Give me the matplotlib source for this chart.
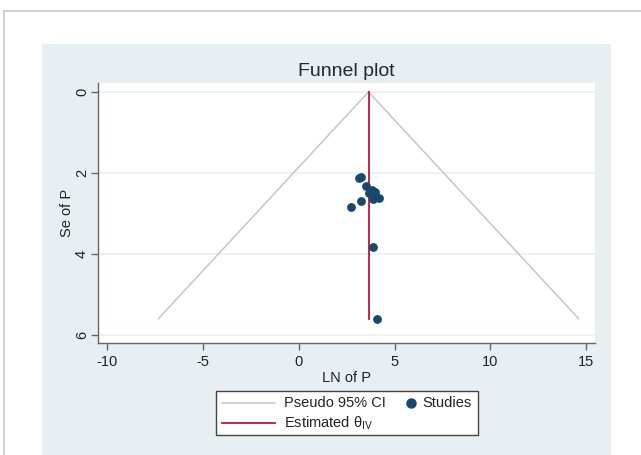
import numpy as np
import matplotlib
matplotlib.use("Agg")
import matplotlib.pyplot as plt
from matplotlib.patches import Rectangle
from matplotlib.lines import Line2D

plt.rcParams['font.family'] = ['Liberation Sans', 'DejaVu Sans']
plt.rcParams['mathtext.fontset'] = 'custom'
plt.rcParams['mathtext.rm'] = 'Liberation Sans'
plt.rcParams['mathtext.it'] = 'Liberation Sans'
plt.rcParams['axes.unicode_minus'] = False

# studies: log effect and standard error
ln_p = [3.12, 3.24, 3.52, 2.75, 3.27, 4.00, 4.17, 3.90, 3.69, 3.80, 3.88, 4.09]
se_p = [2.12, 2.10, 2.32, 2.83, 2.70, 2.46, 2.61, 2.64, 2.50, 2.42, 3.82, 5.61]
theta_iv = 3.64
se_max = 5.6
x_ticks = [-10, -5, 0, 5, 10, 15]
y_ticks = [0, 2, 4, 6]

navy = '#1a476f'
cranberry = '#c8103e'
gray = '#c6c6c6'
panel = '#e8eff2'
txt = '#222222'

fig = plt.figure(figsize=(6.41, 4.55), dpi=100)
W, H = 641, 455


def fx(px):
    return px / W


def fy(py):
    return 1 - py / H


# outer frame and panel background
fig.add_artist(Line2D([fx(4), 1], [fy(10.7)] * 2, color='#c8c8c8', lw=1.2))
fig.add_artist(Line2D([fx(4)] * 2, [0, fy(10.7)], color='#c8c8c8', lw=1.2))
fig.add_artist(Rectangle((fx(42), 0), fx(610 - 42), fy(44),
                         transform=fig.transFigure, color=panel, zorder=0))

ax = fig.add_axes([fx(98), fy(343), fx(497), 260 / H])
ax.set_facecolor('white')

# pseudo 95% CI funnel
se = np.array([0, se_max])
ax.plot(theta_iv - 1.96 * se, se, color=gray, lw=1.1, zorder=2)
ax.plot(theta_iv + 1.96 * se, se, color=gray, lw=1.1, zorder=2)
ax.plot([theta_iv, theta_iv], [0, se_max], color=cranberry, lw=1.3, zorder=3)
ax.scatter(ln_p, se_p, s=40, color=navy, zorder=4, linewidths=0)

ax.set_xlim(-10.49, 15.47)
ax.set_ylim(6.2, -0.22)
ax.set_xticks(x_ticks)
ax.set_yticks(y_ticks)
ax.set_yticklabels([str(t) for t in y_ticks], rotation=90, va='center')
ax.yaxis.grid(True, color='#eaf1f3', lw=1.2)
ax.set_axisbelow(True)
for s in ['top', 'right']:
    ax.spines[s].set_visible(False)
for s in ['left', 'bottom']:
    ax.spines[s].set_color('#666666')
    ax.spines[s].set_linewidth(1.0)
ax.tick_params(direction='out', length=5, width=1, color='#666666',
               labelsize=10.5, labelcolor=txt, pad=4)
ax.tick_params(axis='y', pad=1.5)
ax.set_xlabel('LN of P', fontsize=10.5, color=txt, labelpad=1)
ax.set_ylabel('Se of P', fontsize=10.5, color=txt, labelpad=1)
ax.set_title('Funnel plot', fontsize=14, color='#1f2a38', pad=5)

# legend box, laid out by hand like the original
fig.add_artist(Rectangle((fx(215.7), fy(435)), fx(477.7 - 215.7), (435 - 391) / H,
                         transform=fig.transFigure, facecolor='white',
                         edgecolor='#444444', lw=1.0, zorder=5))
row1, row2 = 403.3, 423.3
fig.add_artist(Line2D([fx(221.7), fx(275)], [fy(row1)] * 2, color=gray, lw=1.1, zorder=6))
fig.add_artist(Line2D([fx(221.7), fx(275)], [fy(row2)] * 2, color=cranberry, lw=1.3, zorder=6))
fig.add_artist(Line2D([fx(411)], [fy(row1)], ls='', marker='o', ms=6.5, color=navy, zorder=6))
fig.text(fx(284), fy(row1), 'Pseudo 95% CI', fontsize=10.5, color=txt, va='center', zorder=6)
fig.text(fx(284), fy(row2), r'Estimated θ$_{\mathregular{IV}}$', fontsize=10.5, color=txt,
         va='center', zorder=6)
fig.text(fx(422.7), fy(row1), 'Studies', fontsize=10.5, color=txt, va='center', zorder=6)

fig.savefig('out.png', dpi=100)
